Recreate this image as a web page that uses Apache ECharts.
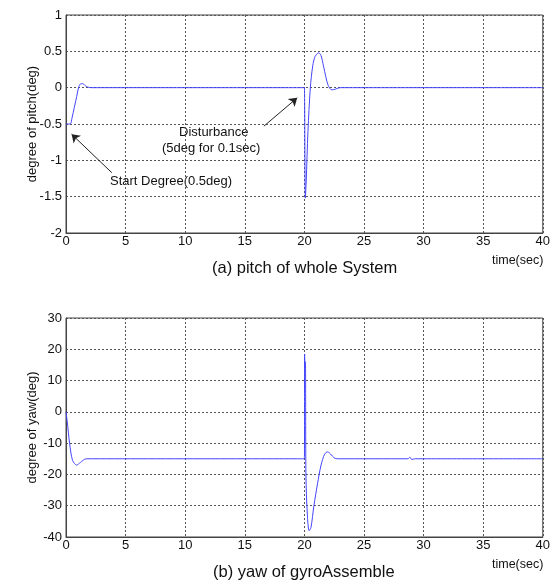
<!DOCTYPE html>
<html>
<head>
<meta charset="utf-8">
<script src="https://cdn.jsdelivr.net/npm/echarts@6/dist/echarts.min.js"></script>
<style>
  html, body { margin: 0; padding: 0; background: #fff; }
  #main { width: 553px; height: 584px; }
</style>
</head>
<body>
<div id="main"></div>
<script>
// pitch response (deg) (a)
const pitchTime = [0, 0.35, 0.5, 0.7, 0.9, 1.05, 1.2, 1.4, 1.6, 1.8, 2.1, 20.0, 20.02, 20.08, 20.15, 20.3, 20.5, 20.7, 20.9, 21.2, 21.4, 21.6, 21.8, 22.0, 22.3, 22.6, 23.0, 40]
const pitchDeg  = [-0.5, -0.5, -0.42, -0.27, -0.12, 0, 0.05, 0.055, 0.03, 0.01, 0, 0, -0.15, -1.52, -1.3, -0.6, 0, 0.3, 0.43, 0.48, 0.44, 0.3, 0.15, 0.03, -0.03, -0.02, 0, 0]

// yaw response (deg) (b)
const yawTime = [0, 0.1, 0.3, 0.55, 0.9, 1.2, 1.7, 20.0, 20.02, 20.05, 20.08, 20.1, 20.13, 20.25, 20.4, 20.55, 20.8, 21.1, 21.4, 21.7, 21.95, 22.2, 22.5, 22.8, 28.7, 28.85, 29.0, 29.3, 40]
const yawDeg  = [0, -3, -10, -15.5, -17, -16.2, -15, -15, 18.5, 14, 16, 14, -20, -33, -38, -37, -30, -23, -17, -13.5, -12.8, -13.5, -14.7, -15, -15, -14.5, -15.2, -15, -15]

const xTicks = { min: 0, max: 40, interval: 5 }
const pitchTicks = { min: -2, max: 1, interval: 0.5 }
const yawTicks = { min: -40, max: 30, interval: 10 }

const pair = (t, v) => t.map((x, i) => [x, v[i]])

const font = 'Liberation Sans, Arial, sans-serif'
const lineBlue = '#4444ff'

const xAxisBase = (gridIndex) => ({
  type: 'value',
  gridIndex,
  min: xTicks.min, max: xTicks.max, interval: xTicks.interval,
  axisLine: { show: true, onZero: false, lineStyle: { color: '#444' } },
  axisTick: { show: false },
  axisLabel: { color: '#111', fontFamily: font, fontSize: 13, margin: 2 },
  splitLine: { show: true, lineStyle: { color: '#555', type: [2, 2], width: 1 } }
})
const yAxisBase = (gridIndex, t, name) => ({
  type: 'value',
  gridIndex,
  min: t.min, max: t.max, interval: t.interval,
  name,
  nameLocation: 'middle',
  nameGap: 27,
  nameMoveOverlap: false,
  nameTextStyle: { color: '#111', fontFamily: font, fontSize: 13 },
  axisLine: { show: true, onZero: false, lineStyle: { color: '#444' } },
  axisTick: { show: false },
  axisLabel: { color: '#111', fontFamily: font, fontSize: 13, margin: 4 },
  splitLine: { show: true, lineStyle: { color: '#555', type: [2, 2], width: 1 } }
})

const chart = echarts.init(document.getElementById('main'))
chart.setOption({
  animation: false,
  grid: [
    { left: 66, right: 9, top: 15, height: 218, show: true, borderColor: '#444', borderWidth: 1 },
    { left: 66, right: 9, top: 318, height: 219, show: true, borderColor: '#444', borderWidth: 1 }
  ],
  xAxis: [xAxisBase(0), xAxisBase(1)],
  yAxis: [
    yAxisBase(0, pitchTicks, 'degree of pitch(deg)'),
    yAxisBase(1, yawTicks, 'degree of yaw(deg)')
  ],
  series: [
    {
      type: 'line', xAxisIndex: 0, yAxisIndex: 0,
      data: pair(pitchTime, pitchDeg),
      showSymbol: false, smooth: 0.3,
      lineStyle: { color: lineBlue, width: 1 },
      markLine: {
        silent: true,
        symbol: ['none', 'arrow'],
        symbolSize: 8,
        label: { show: false },
        lineStyle: { color: '#222', width: 1, type: 'solid' },
        data: [
          [{ coord: [3.84, -1.17] }, { coord: [0.47, -0.64] }],
          [{ coord: [16.6, -0.53] }, { coord: [19.4, -0.14] }]
        ]
      }
    },
    {
      type: 'line', xAxisIndex: 1, yAxisIndex: 1,
      data: pair(yawTime, yawDeg),
      showSymbol: false, smooth: 0.3,
      lineStyle: { color: lineBlue, width: 1 }
    }
  ],
  graphic: [
    { type: 'text', left: 179, top: 126, style: { text: 'Disturbance', font: '13px ' + font, fill: '#111' } },
    { type: 'text', left: 162, top: 142, style: { text: '(5deg for 0.1sec)', font: '13px ' + font, fill: '#111' } },
    { type: 'text', left: 110, top: 175, style: { text: 'Start Degree(0.5deg)', font: '13px ' + font, fill: '#111' } },
    { type: 'text', left: 492, top: 254, style: { text: 'time(sec)', font: '12.5px ' + font, fill: '#111' } },
    { type: 'text', left: 212, top: 260, style: { text: '(a) pitch of whole System', font: '16.5px ' + font, fill: '#111' } },
    { type: 'text', left: 492, top: 558, style: { text: 'time(sec)', font: '12.5px ' + font, fill: '#111' } },
    { type: 'text', left: 213, top: 564, style: { text: '(b) yaw of gyroAssemble', font: '16.5px ' + font, fill: '#111' } }
  ]
})
</script>
</body>
</html>
